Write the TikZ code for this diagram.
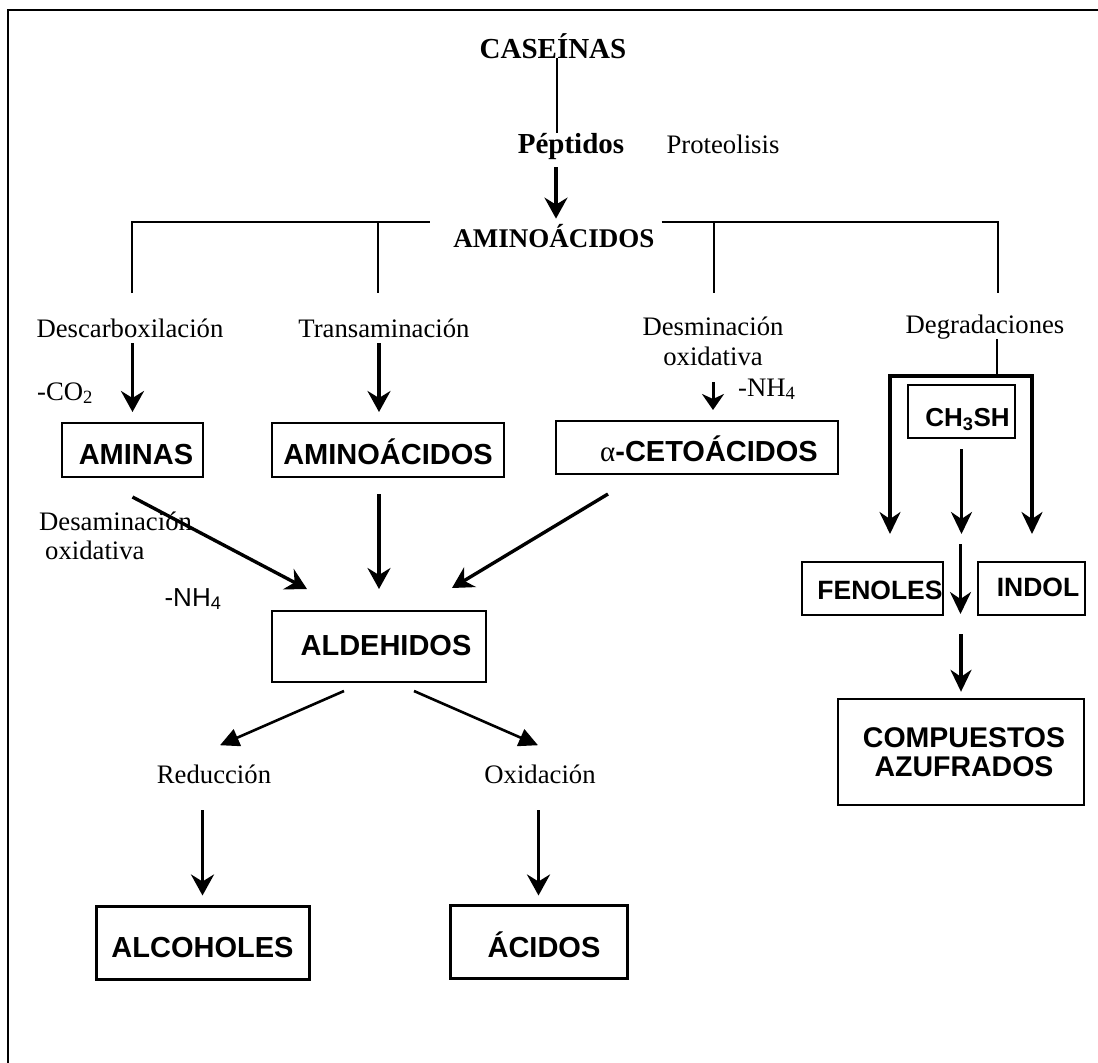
\documentclass[tikz,border=0pt]{standalone}
\usepackage{fontspec}
\setmainfont{Liberation Serif}
\setsansfont{Liberation Sans}
\usetikzlibrary{arrows.meta,calc}
\begin{document}
\begin{tikzpicture}[x=1pt,y=-1pt,
  lbl/.style={inner sep=0pt, anchor=base, font=\fontsize{26.7}{29}\selectfont},
  lblbold/.style={inner sep=0pt, anchor=base, font=\bfseries\fontsize{29}{33}\selectfont},
  boxed/.style={draw, line width=2pt, inner sep=0pt, text depth=0pt, font=\sffamily\bfseries\fontsize{29}{33}\selectfont},
  heavybox/.style={boxed, line width=3pt},
  arr/.style={line width=3.4pt, -{Stealth[length=21pt,width=23pt,inset=7pt]}},
  arrr/.style={line width=3.2pt, -{Stealth[length=22pt,width=21pt,inset=7pt]}},
  sarr/.style={line width=3pt, -{Stealth[length=16pt,width=22pt,inset=5pt]}},
  tarr/.style={line width=2.6pt, -{Triangle[length=19pt,width=18pt]}},
  vline/.style={line width=2.6pt},
]
\useasboundingbox (0,0) rectangle (1098,1063);
\draw[line width=2.8pt] (8,1063) -- (8,10) -- (1098,10);

% top
\node[lblbold] (cas) at (553,58) {CASEÍNAS};
\node[lblbold] (pep) at (571,153) {Péptidos};
\node[lbl] (prot) at (723,153) {Proteolisis};
\node[lblbold, font=\bfseries\fontsize{27}{30}\selectfont] (amino) at (554,247) {AMINOÁCIDOS};

% pathway labels
\node[lbl] (desc) at (130,337) {Descarboxilación};
\node[lbl] (trans) at (384,337) {Transaminación};
\node[lbl] (desm1) at (713,335) {Desminación};
\node[lbl] (desm2) at (713,365) {oxidativa};
\node[lbl] (degr) at (985,333) {Degradaciones};
\node[lbl, anchor=base west] (co2) at (37,400) {-CO\textsubscript{2}};
\node[lbl, anchor=base west] (nh4r) at (738,396) {-NH\textsubscript{4}};

% boxes
\node[boxed, text height=29pt, minimum width=141pt, minimum height=54pt] (aminas) at (132.5,450) {\hspace*{7pt}AMINAS};
\node[boxed, text height=29pt, minimum width=232pt, minimum height=54pt] (aminoB) at (388,450) {AMINOÁCIDOS};
\node[boxed, text height=28pt, minimum width=282pt, minimum height=53pt] (ceto) at (697,447.5) {\hspace*{24pt}{\rmfamily\mdseries α}-CETOÁCIDOS};
\node[boxed, text height=29pt, font=\sffamily\bfseries\fontsize{26}{30}\selectfont, minimum width=107pt, minimum height=53pt] (ch3sh) at (961.5,411.5) {\hspace*{12pt}CH\textsubscript{3}SH};
\node[boxed, text height=18pt, minimum width=214pt, minimum height=71pt] (ald) at (379,646.5) {\hspace*{14pt}ALDEHIDOS};
\node[boxed, text height=22pt, font=\sffamily\bfseries\fontsize{26.5}{30}\selectfont, minimum width=141pt, minimum height=53pt] (fen) at (872.5,588.5) {\hspace*{15pt}FENOLES};
\node[boxed, text height=16pt, font=\sffamily\bfseries\fontsize{26.5}{30}\selectfont, minimum width=107pt, minimum height=53pt] (indol) at (1031.5,588.5) {\hspace*{13pt}INDOL};
\node[draw, line width=2.4pt, inner sep=0pt, align=center, font=\sffamily\bfseries\fontsize{28.5}{29}\selectfont, minimum width=246pt, minimum height=106pt] (comp) at (961,752) {\hspace*{6pt}COMPUESTOS\\\hspace*{6pt}AZUFRADOS};
\node[heavybox, text height=29pt, minimum width=213pt, minimum height=73pt] (alc) at (202.5,942.5) {ALCOHOLES};
\node[heavybox, text height=31pt, minimum width=177pt, minimum height=73pt] (acid) at (538.5,941.5) {\hspace*{11pt}ÁCIDOS};

% other labels
\node[lbl, anchor=base west] (desa1) at (39,530) {Desaminación};
\node[lbl, anchor=base west] (desa2) at (45,559) {oxidativa};
\node[inner sep=0pt, anchor=base, font=\sffamily\fontsize{26}{29}\selectfont] (nh4l) at (193,606) {-NH\textsubscript{4}};
\node[lbl] (red) at (214,783) {Reducción};
\node[lbl] (oxi) at (540,783) {Oxidación};

% top connectors
\draw[line width=1.4pt] ([xshift=4pt]cas.south) -- ([xshift=-14pt]pep.north);
\draw[arr, shorten <=8pt, shorten >=5pt] ([xshift=-15pt]pep.south) -- ([xshift=-15pt]pep.south |- amino.north);

\coordinate (b1) at (132,222);
\coordinate (b2) at (378,222);
\coordinate (b3) at (714,222);
\coordinate (b4) at (998,222);
\draw[vline] ([yshift=-71pt]b1) -- (b1) -- ([xshift=-23pt]amino.west |- b1);
\draw[vline] (b2) -- ([yshift=-71pt]b2);
\draw[vline] (b3) -- ([yshift=-71pt]b3);
\draw[vline] ([xshift=7pt]amino.east |- b4) -- (b4) -- ([yshift=-71pt]b4);

% middle arrows
\draw[arr, shorten <=6pt, shorten >=10pt] (aminas.north |- desc.south) -- (aminas.north);
\draw[arr, shorten <=6pt, shorten >=10pt] ([xshift=-9pt]aminoB.north |- trans.south) -- ([xshift=-9pt]aminoB.north);
\draw[sarr, shorten <=17pt, shorten >=10pt] (desm2.south) -- (desm2.south |- ceto.north);
\draw[arr] ([yshift=-19pt]aminas.south) -- ([xshift=36pt,yshift=21pt]ald.north west);
\draw[arr, shorten <=16pt, shorten >=21pt] (ald.north |- aminoB.south) -- (ald.north);
\draw[arr] ([xshift=-89pt,yshift=-19pt]ceto.south) -- ([xshift=-35pt,yshift=22pt]ald.north east);

% lower arrows
\draw[tarr] ([xshift=-35pt,yshift=-8pt]ald.south) -- ([xshift=6pt,yshift=19pt]red.north);
\draw[tarr] ([xshift=35pt,yshift=-8pt]ald.south) -- ([xshift=-2pt,yshift=19pt]oxi.north);
\draw[arr, shorten <=27pt, shorten >=9pt] (alc.north |- red.south) -- (alc.north);
\draw[arr, shorten <=27pt, shorten >=8pt] (acid.north |- oxi.south) -- (acid.north);

% right branch
\coordinate (jm) at (997,376);
\coordinate (jl) at (890,376);
\coordinate (jr) at (1032,376);
\draw[vline] (degr.south -| jm) -- (jm);
\draw[line width=3.2pt, {Stealth[length=22pt,width=21pt,inset=7pt]}-{Stealth[length=22pt,width=21pt,inset=7pt]}, shorten <=27pt, shorten >=27pt]
  (jl |- fen.north) -- (jl) -- (jr) -- (jr |- indol.north);
\draw[arrr, shorten <=10pt, shorten >=27pt] (ch3sh.south) -- (ch3sh.south |- fen.north);
\draw[arrr] ($(fen.north east)!0.5!(indol.north west)+(0,-17)$) -- ($(fen.south east)!0.5!(indol.south west)+(0,-2)$);
\draw[arrr, shorten <=18pt, shorten >=6pt] (comp.north |- fen.south) -- (comp.north);
\end{tikzpicture}
\end{document}
